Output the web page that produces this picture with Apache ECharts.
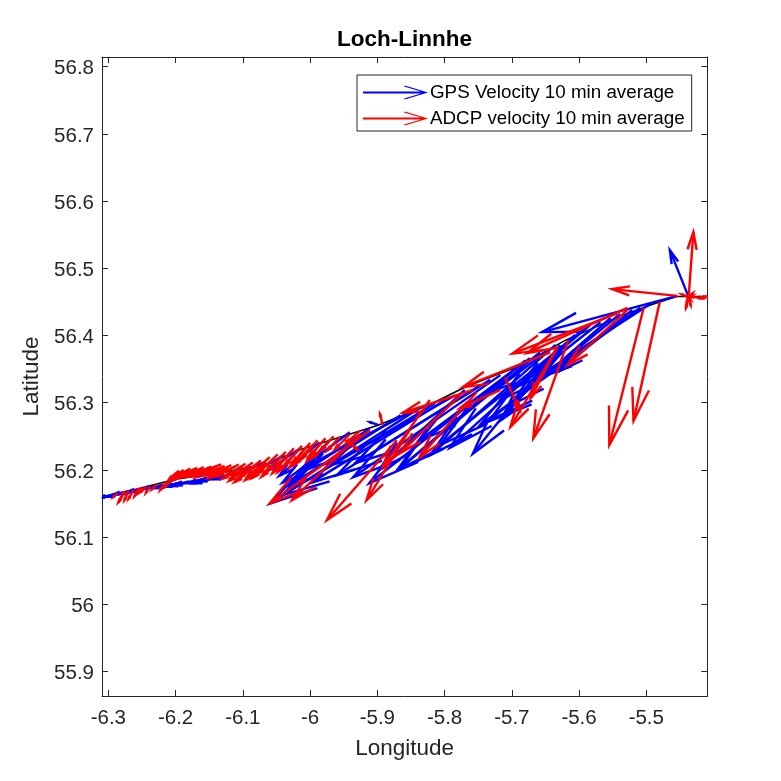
<!DOCTYPE html>
<html><head><meta charset="utf-8">
<style>html,body{margin:0;padding:0;background:#fff}#c{width:781px;height:781px}</style>
<script src="https://cdn.jsdelivr.net/npm/echarts@6/dist/echarts.min.js"></script>
</head><body><div id="c"></div>
<script>
const titleText = 'Loch-Linnhe';
const xName = 'Longitude', yName = 'Latitude';
const gpsName = 'GPS Velocity 10 min average', adcpName = 'ADCP velocity 10 min average';
const lonTicks = [-6.3,-6.2,-6.1,-6,-5.9,-5.8,-5.7,-5.6,-5.5];
const latTicks = [55.9,56,56.1,56.2,56.3,56.4,56.5,56.6,56.7,56.8];
const trackLon = [-6.31,-6.2,-6.12,-6.06,-6.015,-5.9,-5.82,-5.77,-5.69,-5.62,-5.54,-5.495,-5.455,-5.43,-5.41];
const trackLat = [56.158,56.186,56.198,56.21,56.23,56.266,56.298,56.323,56.354,56.393,56.428,56.445,56.458,56.458,56.458];
// each row: lon, lat, eastward, northward
const gpsArrows = [
[-5.437,56.457,-.028,.070],[-5.454,56.459,-.201,-.054],[-5.494,56.447,-.170,-.110],[-5.521,56.438,-.110,-.092],
[-5.628,56.386,-.130,-.162],[-5.583,56.416,-.134,-.112],[-5.553,56.426,-.149,-.130],[-5.539,56.432,-.194,-.158],
[-5.606,56.401,-.186,-.168],[-5.635,56.386,-.186,-.164],[-5.658,56.375,-.213,-.176],
[-5.688,56.356,-.224,-.176],[-5.673,56.366,-.164,-.122],[-5.717,56.341,-.219,-.152],[-5.747,56.326,-.213,-.134],
[-5.770,56.319,-.127,-.119],[-5.792,56.308,-.206,-.127],[-5.814,56.299,-.228,-.137],[-5.837,56.292,-.222,-.142],
[-5.866,56.281,-.164,-.104],[-5.899,56.267,-.012,.004],[-5.941,56.256,-.100,-.075],[-5.986,56.241,-.060,-.050],
[-6.015,56.232,-.048,-.033],[-6.038,56.222,-.045,-.025],[-6.068,56.211,-.037,-.015],
[-5.784,56.311,-.186,-.104],[-5.732,56.334,-.201,-.124],
[-5.680,56.363,-.186,-.161],[-5.591,56.411,-.216,-.174],
[-5.509,56.441,-.238,-.174],[-5.568,56.420,-.119,-.094],[-5.612,56.396,-.104,-.122],
[-5.650,56.375,-.075,-.057],[-5.509,56.441,-.149,-.104],[-5.851,56.286,-.164,-.086],
[-5.911,56.262,-.090,-.060],[-5.971,56.244,-.037,-.045],
[-6.100,56.198,-.045,-.012],[-6.120,56.193,-.045,-.010],[-6.130,56.191,-.042,-.011],[-6.140,56.190,-.040,-.010],
[-6.157,56.187,-.045,-.010],[-6.170,56.184,-.036,-.008],[-6.180,56.183,-.034,-.008],[-6.194,56.181,-.030,-.007],
[-6.205,56.179,-.028,-.006],[-6.217,56.178,-.030,-.006],[-6.228,56.176,-.028,-.007],[-6.239,56.174,-.030,-.006],
[-6.250,56.171,-.028,-.007],[-6.261,56.170,-.030,-.006],[-6.272,56.167,-.028,-.007],[-6.284,56.165,-.028,-.006],[-6.295,56.162,-.018,-.004]
];
const adcpArrows = [
[-5.437,56.457,.007,.097],[-5.454,56.459,-.097,.010],[-5.504,56.441,-.051,-.204],[-5.480,56.450,-.039,-.177],
[-5.528,56.438,-.089,-.082],[-5.616,56.393,-.052,-.146],[-5.632,56.383,-.070,-.119],[-5.710,56.337,.022,-.048],
[-5.543,56.433,-.156,-.060],[-5.528,56.441,-.149,-.067],[-5.643,56.375,-.130,-.052],[-5.758,56.319,-.104,-.034],
[-5.752,56.316,-.085,-.097],[-5.777,56.311,-.089,-.086],[-5.871,56.244,-.104,-.119],[-5.852,56.259,-.064,-.104],
[-5.911,56.259,-.149,-.109],[-5.926,56.252,-.101,-.097],[-5.822,56.304,-.070,-.100],[-5.632,56.383,-.040,-.076],
[-5.717,56.319,-.060,-.027],[-5.948,56.244,.018,-.013],[-5.892,56.267,-.004,.016],
[-5.926,56.258,-.020,-.018],[-5.941,56.253,-.022,-.022],[-5.956,56.249,-.018,-.020],[-5.971,56.244,-.025,-.026],
[-5.983,56.241,-.022,-.028],[-5.995,56.238,-.028,-.030],[-6.006,56.234,-.024,-.030],[-6.018,56.229,-.030,-.032],
[-6.030,56.225,-.026,-.030],[-6.042,56.220,-.030,-.030],[-6.054,56.216,-.032,-.028],[-6.066,56.211,-.030,-.026],
[-6.078,56.208,-.034,-.026],[-6.090,56.206,-.030,-.022],[-6.100,56.205,-.030,-.018],[-6.111,56.205,-.030,-.015],
[-6.121,56.204,-.030,-.016],[-6.132,56.203,-.032,-.012],[-6.142,56.203,-.028,-.014],[-6.152,56.202,-.030,-.012],
[-6.163,56.201,-.026,-.012],[-6.173,56.200,-.024,-.012],[-6.184,56.197,-.018,-.012],[-6.193,56.196,-.012,-.012],
[-6.200,56.195,-.008,-.012],[-6.195,56.199,-.014,-.012],[-6.188,56.200,-.018,-.012],[-6.178,56.202,-.022,-.012],
[-6.168,56.203,-.026,-.012],[-6.158,56.204,-.026,-.012],[-6.147,56.205,-.028,-.012],[-6.137,56.206,-.030,-.013],
[-6.127,56.206,-.030,-.014],[-6.117,56.207,-.032,-.015],[-6.106,56.208,-.032,-.016],[-6.096,56.209,-.030,-.018],
[-6.085,56.211,-.032,-.022],[-6.073,56.214,-.034,-.026],[-6.060,56.219,-.034,-.030],[-6.048,56.223,-.032,-.030],
[-6.036,56.227,-.030,-.030],[-6.024,56.232,-.028,-.030],[-6.012,56.236,-.026,-.030],[-6.000,56.240,-.026,-.030],
[-5.989,56.244,-.024,-.028],[-5.977,56.247,-.024,-.026],[-5.965,56.250,-.020,-.022],[-6.132,56.208,-.040,-.014],
[-6.217,56.180,-.006,-.010],[-6.227,56.179,-.008,-.008],[-6.238,56.176,-.006,-.010],[-6.250,56.174,-.008,-.010],
[-6.262,56.171,-.008,-.014],[-6.270,56.169,-.006,-.014],[-6.278,56.168,-.004,-.012],[-6.286,56.166,-.006,-.006],
[-6.275,56.168,-.010,-.016],[-6.255,56.173,-.006,-.012],[-6.244,56.175,-.008,-.008],[-6.205,56.186,-.010,-.010],[-6.212,56.182,-.006,-.008],
[-5.437,56.457,.006,.006],[-5.437,56.457,-.010,.004],[-5.437,56.457,.003,-.012],[-5.437,56.457,-.004,-.016],
[-5.437,56.457,.008,0],[-5.440,56.459,.006,-.006],[-5.441,56.456,.010,.004],[-5.436,56.460,-.004,-.010],
[-5.427,56.457,.008,-.002],[-5.422,56.458,.006,-.002],[-5.417,56.458,.006,0],[-5.410,56.458,.004,0]
];
const BACK = 0.27, SIDE = 0.07;
function arrowItem(params, api) {
  const a = api.coord([api.value(0), api.value(1)]);
  const b = api.coord([api.value(0) + api.value(2), api.value(1) + api.value(3)]);
  const dx = b[0] - a[0], dy = b[1] - a[1];
  const b1 = [b[0] - BACK * dx - SIDE * dy, b[1] - BACK * dy + SIDE * dx];
  const b2 = [b[0] - BACK * dx + SIDE * dy, b[1] - BACK * dy - SIDE * dx];
  const style = { stroke: api.visual('color'), fill: null, lineWidth: 2.4, lineJoin: 'miter' };
  return { type: 'group', children: [
    { type: 'polyline', shape: { points: [a, b] }, style },
    { type: 'polyline', shape: { points: [b1, b, b2] }, style }
  ]};
}
const arrowIcon = 'path://M0 6H58L41 1L41.8 0L65 7L41.8 14L41 13L58 8H0Z';
const font = 'Liberation Sans';
const ink = '#262626';
function lonAxis(show, pos) { return {
  type: 'value', position: pos, min: -6.3094, max: -5.4093,
  axisLine: { show: true, onZero: false, lineStyle: { color: ink, width: 1 } },
  axisTick: { show: true, inside: true, length: 6, customValues: lonTicks, lineStyle: { color: ink, width: 1 } },
  axisLabel: { show: show, customValues: lonTicks, color: ink, fontFamily: font, fontSize: 20.5, margin: 12, formatter: v => String(+v.toFixed(1)) },
  splitLine: { show: false }, name: show ? xName : '', nameLocation: 'middle', nameGap: 41,
  nameTextStyle: { color: ink, fontFamily: font, fontSize: 22.5 }
};}
function latAxis(show, pos) { return {
  type: 'value', position: pos, min: 55.8635, max: 56.8144,
  axisLine: { show: true, onZero: false, lineStyle: { color: ink, width: 1 } },
  axisTick: { show: true, inside: true, length: 6, customValues: latTicks, lineStyle: { color: ink, width: 1 } },
  axisLabel: { show: show, customValues: latTicks, margin: 8, formatter: v => '{a|' + (+v.toFixed(1)) + '}',
    rich: { a: { color: ink, fontFamily: font, fontSize: 20.5, padding: [4, 0, 0, 0] } } },
  splitLine: { show: false }, name: show ? yName : '', nameLocation: 'middle', nameGap: 54,
  nameTextStyle: { color: ink, fontFamily: font, fontSize: 22.5 }
};}
const chart = echarts.init(document.getElementById('c'), null, { renderer: 'canvas' });
chart.setOption({
  animation: false, backgroundColor: '#fff',
  title: { text: titleText, left: 332, top: 23, textStyle: { fontFamily: font, fontSize: 22.5, fontWeight: 'bold', color: '#000' } },
  grid: { left: 102, right: 73.7, top: 57, bottom: 85 },
  xAxis: [lonAxis(true, 'bottom'), lonAxis(false, 'top')],
  yAxis: [latAxis(true, 'left'), latAxis(false, 'right')],
  legend: { orient: 'vertical', left: 357, top: 75, padding: [8, 7, 3, 6], itemGap: 7, itemWidth: 65, itemHeight: 14,
    backgroundColor: '#fff', borderColor: '#262626', borderWidth: 1,
    textStyle: { fontFamily: font, fontSize: 18.8, color: '#000', padding: [0, 0, 0, -3] },
    data: [{ name: gpsName, icon: arrowIcon }, { name: adcpName, icon: arrowIcon }] },
  series: [
    { type: 'line', data: trackLon.map((v, i) => [v, trackLat[i]]), showSymbol: false, silent: true, lineStyle: { color: '#000', width: 1.5 }, itemStyle: { color: '#000' }, z: 1, clip: true },
    { type: 'custom', name: gpsName, data: gpsArrows, renderItem: arrowItem, encode: { x: 0, y: 1 }, itemStyle: { color: '#0000ff' }, z: 2, clip: true },
    { type: 'custom', name: adcpName, data: adcpArrows, renderItem: arrowItem, encode: { x: 0, y: 1 }, itemStyle: { color: '#ff0000' }, z: 3, clip: true }
  ]
});
</script></body></html>
